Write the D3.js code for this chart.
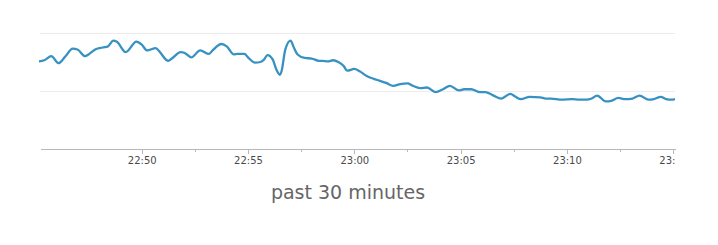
<!DOCTYPE html>
<html>
<head>
<meta charset="utf-8">
<script src="https://cdn.jsdelivr.net/npm/d3@7"></script>
<style>
  body { margin: 0; background: #fff; }
  svg { display: block; }
  .grid line { stroke: #ececec; stroke-width: 1; }
  .axis path, .axis line { stroke: #b8b8b8; shape-rendering: crispEdges; }
  .axis text { fill: #4a4a4a; font-family: "DejaVu Sans", sans-serif; font-size: 10px; }
  .title { fill: #666; font-family: "DejaVu Sans", sans-serif; font-size: 19px; }
</style>
</head>
<body>
<div id="chart"></div>
<script>
// samples (time of day, load)
const times = [
  "22:45:10","22:45:25","22:45:45","22:46:05","22:46:25","22:46:45","22:47:00","22:47:20",
  "22:47:30","22:47:50","22:48:10","22:48:25","22:48:40","22:48:50","22:49:15","22:49:45",
  "22:50:00","22:50:15","22:50:40","22:50:50","22:51:15","22:51:25","22:51:50","22:52:00",
  "22:52:20","22:52:45","22:53:10","22:53:20","22:53:45","22:54:00","22:54:20","22:54:30",
  "22:54:50","22:55:00","22:55:20","22:55:35","22:55:45","22:55:55","22:56:10","22:56:20",
  "22:56:30","22:56:35","22:56:45","22:57:00","22:57:10","22:57:20","22:57:40","22:58:00",
  "22:58:20","22:58:30","22:58:45","22:59:00","22:59:15","22:59:30","22:59:40","23:00:00",
  "23:00:15","23:00:35","23:00:55","23:01:10","23:01:30","23:01:50","23:02:10","23:02:30",
  "23:02:45","23:03:05","23:03:25","23:03:50","23:04:10","23:04:30","23:04:55","23:05:10",
  "23:05:30","23:05:55","23:06:10","23:06:30","23:06:55","23:07:20","23:07:35","23:07:50",
  "23:08:15","23:08:45","23:09:00","23:09:15","23:09:45","23:10:15","23:10:35","23:10:55",
  "23:11:10","23:11:25","23:11:50","23:12:05","23:12:25","23:12:45","23:13:05","23:13:25",
  "23:13:50","23:14:05","23:14:25","23:14:40","23:14:55","23:15:05"
];
const values = [
  1.51,1.53,1.60,1.48,1.60,1.73,1.71,1.60,
  1.63,1.72,1.75,1.77,1.87,1.85,1.67,1.85,
  1.80,1.70,1.74,1.68,1.52,1.56,1.67,1.66,
  1.58,1.70,1.64,1.70,1.81,1.77,1.63,1.64,
  1.64,1.58,1.49,1.50,1.54,1.62,1.54,1.37,
  1.28,1.35,1.71,1.87,1.74,1.63,1.57,1.56,
  1.52,1.52,1.51,1.53,1.50,1.43,1.35,1.38,
  1.34,1.26,1.21,1.18,1.14,1.09,1.12,1.13,
  1.09,1.05,1.06,0.98,1.03,1.09,1.01,1.03,
  1.03,0.98,0.98,0.93,0.87,0.95,0.90,0.86,
  0.90,0.89,0.87,0.87,0.85,0.86,0.85,0.85,
  0.87,0.92,0.82,0.83,0.88,0.86,0.87,0.92,
  0.85,0.86,0.90,0.86,0.85,0.86
];
const domainStart = "22:45:13";
const domainEnd = "23:15:05";
const gridValues = [1, 2];
const titleText = "past 30 minutes";

const W = 718, H = 245;
const mLeft = 40, mRight = 675, mTop = 33, mBottom = 149;

const parse = d3.timeParse("%H:%M:%S");
const data = times.map((t, i) => ({t: parse(t), v: values[i]}));

const x = d3.scaleTime()
    .domain([parse(domainStart), parse(domainEnd)])
    .range([mLeft, mRight]);
const y = d3.scaleLinear()
    .domain([0, 2])
    .range([mBottom, mTop]);

const svg = d3.select("#chart").append("svg")
    .attr("width", W)
    .attr("height", H);

svg.append("defs").append("clipPath").attr("id", "plot")
  .append("rect")
    .attr("x", mLeft - 1).attr("y", 0)
    .attr("width", mRight - mLeft + 1).attr("height", mBottom);

svg.append("g").attr("class", "grid")
  .selectAll("line")
  .data(gridValues)
  .enter().append("line")
    .attr("x1", mLeft).attr("x2", mRight)
    .attr("y1", d => Math.round(y(d)) + 0.5)
    .attr("y2", d => Math.round(y(d)) + 0.5);

// axis lives in its own svg so the last label gets cut like the original
const axisSvg = svg.append("svg")
    .attr("x", 0).attr("y", 0)
    .attr("width", mRight + 1).attr("height", H);

const axis = axisSvg.append("g")
    .attr("class", "axis")
    .attr("transform", "translate(0," + mBottom + ")");

const majors = x.ticks(d3.timeMinute.every(5));

axis.call(d3.axisBottom(x)
    .tickValues(majors)
    .tickFormat(d3.timeFormat("%H:%M"))
    .tickSize(5)
    .tickSizeOuter(0));
axis.selectAll("text").attr("dy", null).attr("y", 15);

// minor ticks halfway between the labelled ones
const minors = majors.map(d => d3.timeSecond.offset(d, 150))
    .filter(d => d <= x.domain()[1]);
axis.selectAll(".minor")
  .data(minors)
  .enter().append("line")
    .attr("class", "minor")
    .attr("x1", d => Math.round(x(d)) + 0.5)
    .attr("x2", d => Math.round(x(d)) + 0.5)
    .attr("y1", 0).attr("y2", 3);

const line = d3.line()
    .x(d => x(d.t))
    .y(d => y(d.v))
    .curve(d3.curveMonotoneX);

svg.append("path")
    .datum(data)
    .attr("clip-path", "url(#plot)")
    .attr("fill", "none")
    .attr("stroke", "#3791c2")
    .attr("stroke-width", 2.3)
    .attr("stroke-linejoin", "round")
    .attr("d", line);

svg.append("text")
    .attr("class", "title")
    .attr("x", 348)
    .attr("y", 199)
    .attr("text-anchor", "middle")
    .text(titleText);
</script>
</body>
</html>
